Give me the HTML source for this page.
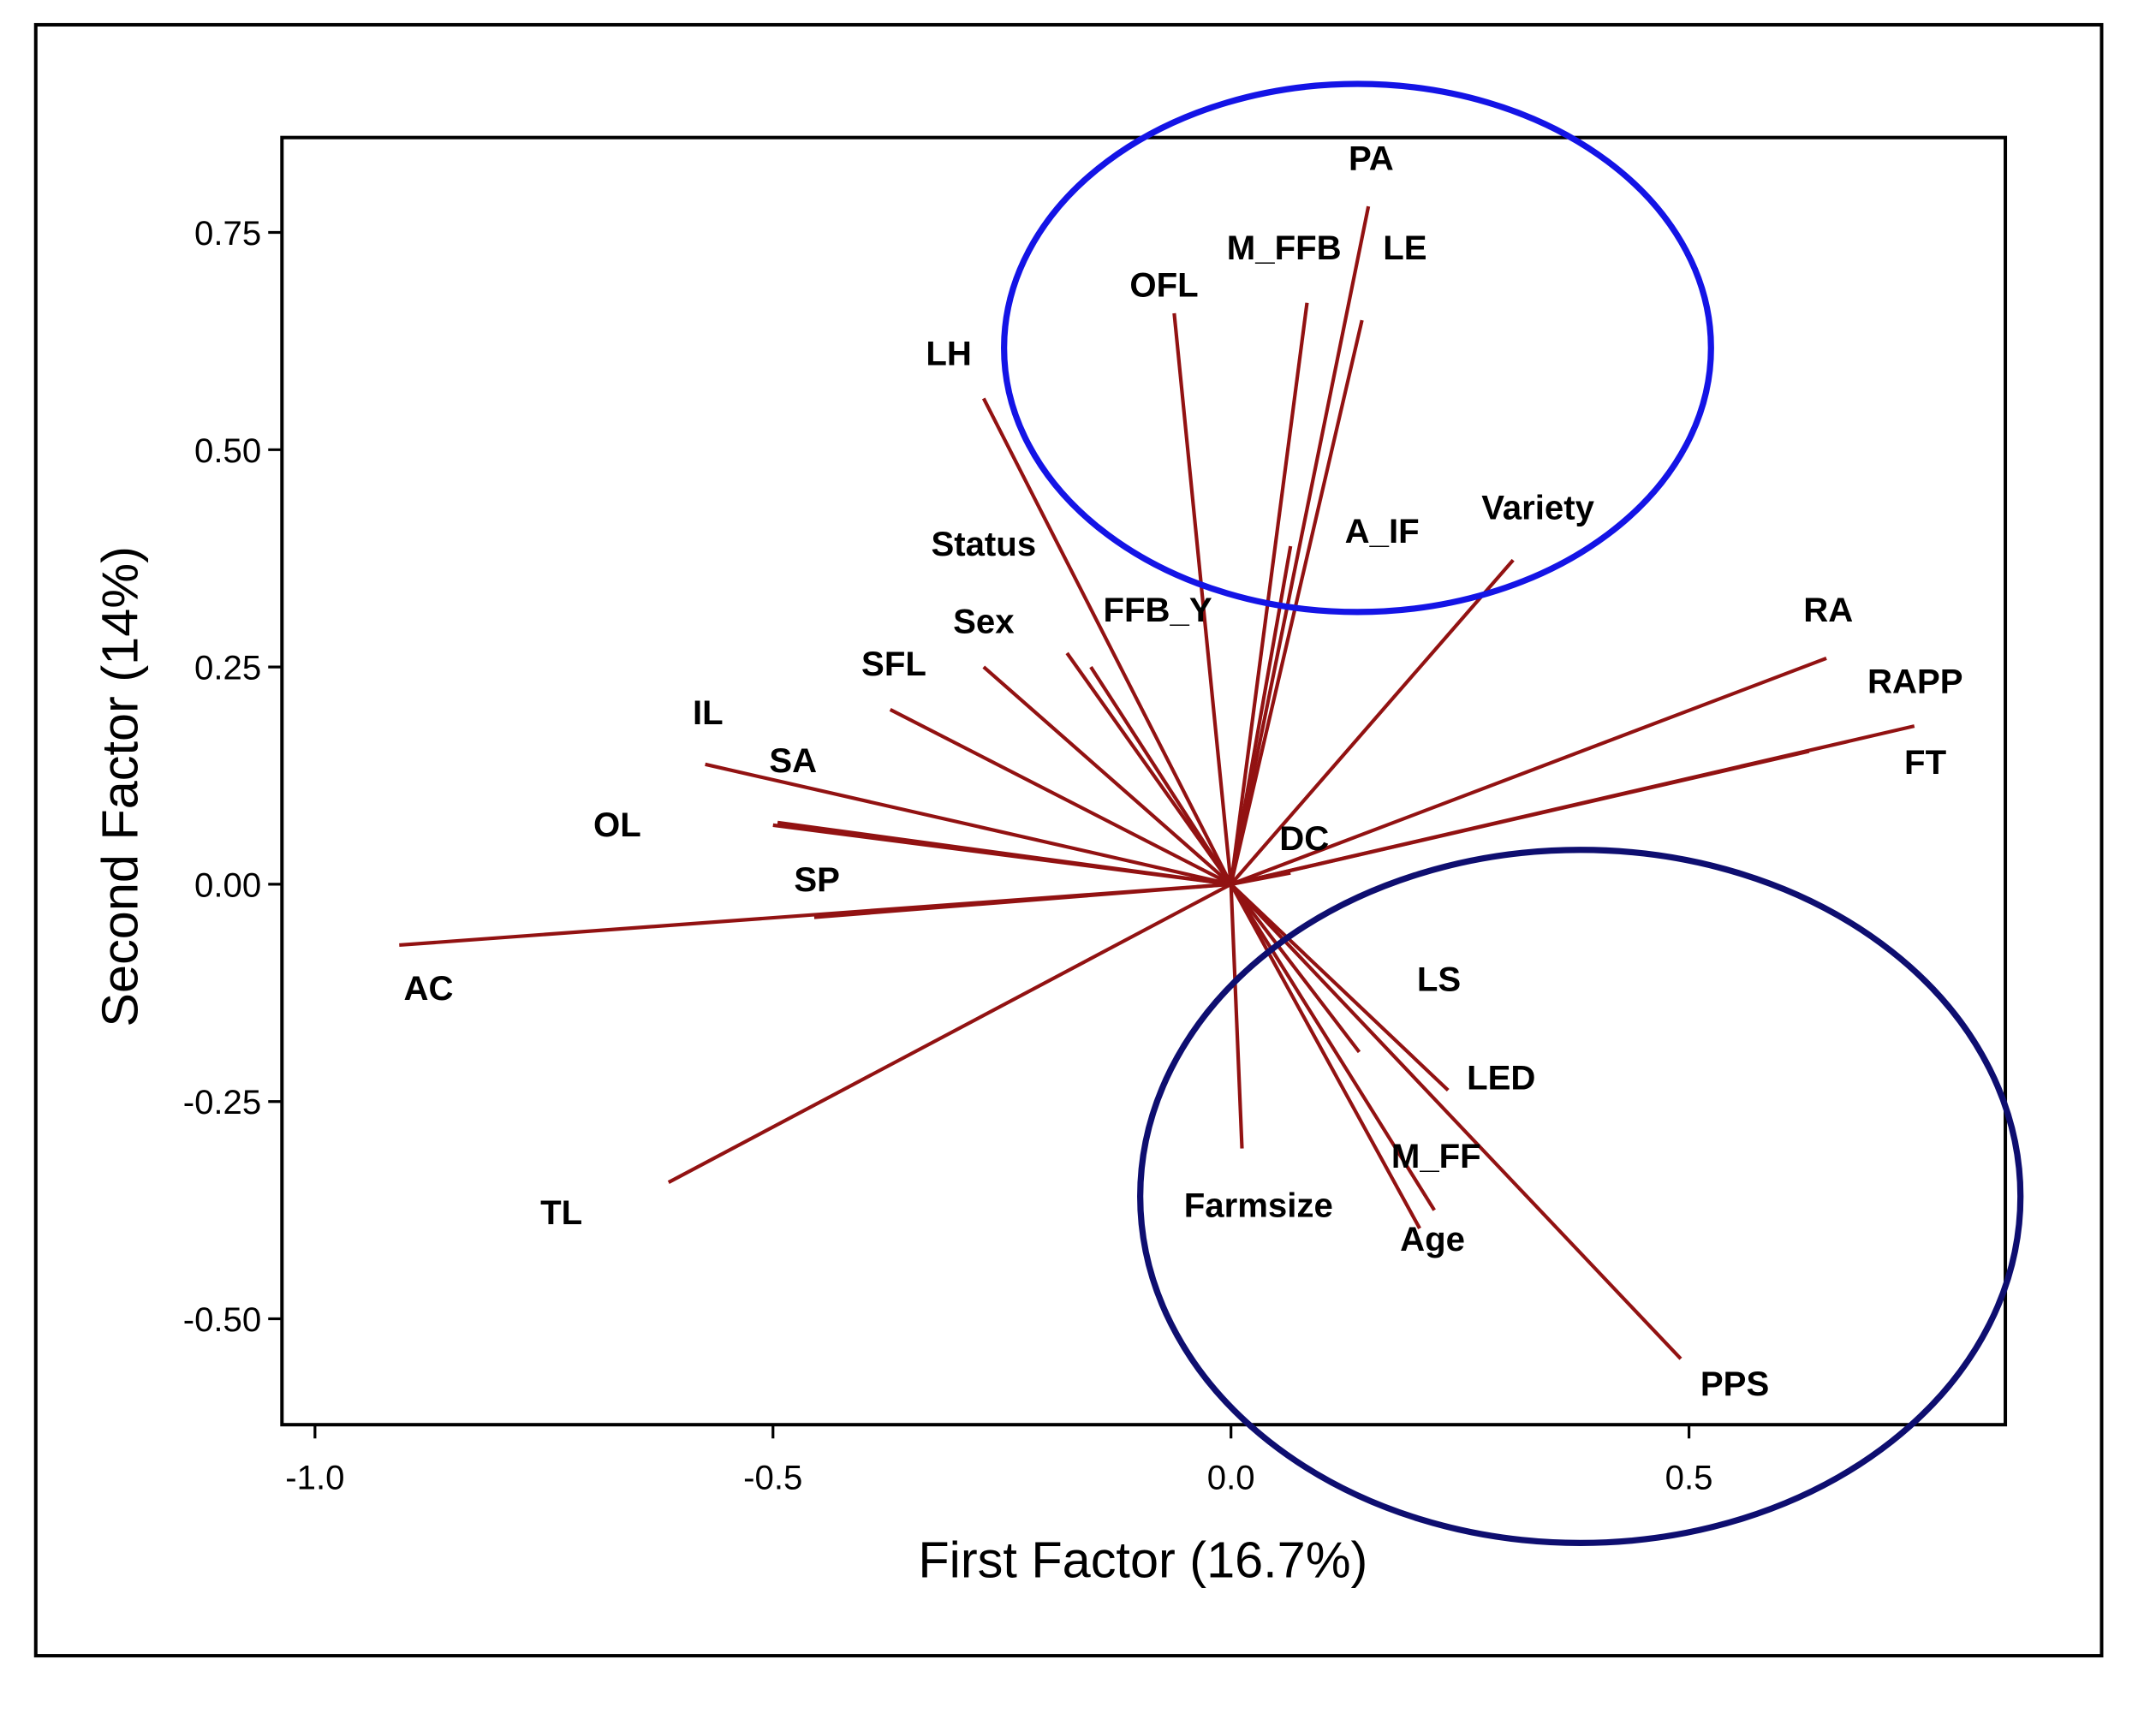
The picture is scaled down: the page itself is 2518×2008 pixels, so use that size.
<!DOCTYPE html>
<html><head><meta charset="utf-8"><style>
html,body{margin:0;padding:0;background:#fff}
svg{display:block}
text{font-family:"Liberation Sans",sans-serif}
.lbl{font-weight:bold;font-size:25px}
.tk{font-size:25px}
</style></head><body>
<svg id="chart" width="2518" height="2008" viewBox="0 0 1555 1240" xmlns="http://www.w3.org/2000/svg">
<g transform="scale(0.992)">
<rect x="26" y="18" width="1502" height="1186" fill="#fff" stroke="#000" stroke-width="2.5"/>
<rect x="205" y="100" width="1253" height="936" fill="none" stroke="#000" stroke-width="2.5"/>
<g id="axes"></g>
<g id="vecs"></g>
<g id="labels"></g>
<ellipse cx="987" cy="253" rx="257" ry="192" fill="none" stroke="#1414e6" stroke-width="4.5"/>
<ellipse cx="1149" cy="870" rx="320" ry="252" fill="none" stroke="#0e0e70" stroke-width="4.5"/>
<text x="831" y="1147" text-anchor="middle" font-size="37">First Factor (16.7%)</text>
<text transform="translate(100,572) rotate(-90)" text-anchor="middle" font-size="37">Second Factor (14%)</text>
</g>
</svg>
<script>
const variables=["PA","LE","M_FFB","OFL","LH","A_IF","Variety","Status","FFB_Y","Sex","SFL","IL","SA","OL","SP","AC","TL","RA","RAPP","FT","DC","Farmsize","LS","LED","M_FF","Age","PPS"];
const factor1=[0.150,0.143,0.083,-0.062,-0.270,0.065,0.308,-0.179,-0.153,-0.270,-0.372,-0.574,-0.495,-0.500,-0.455,-0.908,-0.614,0.650,0.746,0.631,0.065,0.012,0.140,0.237,0.222,0.206,0.491];
const factor2=[0.780,0.649,0.669,0.657,0.559,0.389,0.373,0.266,0.250,0.250,0.201,0.138,0.071,0.068,-0.038,-0.070,-0.343,0.260,0.182,0.153,0.013,-0.304,-0.193,-0.237,-0.375,-0.396,-0.546];
const labelF1=[0.153,0.190,0.058,-0.073,-0.308,0.165,0.335,-0.270,-0.080,-0.270,-0.368,-0.571,-0.478,-0.670,-0.452,-0.876,-0.731,0.652,0.747,0.758,0.080,0.030,0.227,0.295,0.224,0.220,0.550];
const labelF2=[0.830,0.727,0.727,0.684,0.605,0.401,0.428,0.386,0.310,0.297,0.248,0.192,0.137,0.063,0.000,-0.125,-0.383,0.310,0.228,0.135,0.047,-0.375,-0.115,-0.228,-0.318,-0.414,-0.580];
const xTicks=[-1.0,-0.5,0.0,0.5];
const xTickLabels=["-1.0","-0.5","0.0","0.5"];
const yTicks=[-0.5,-0.25,0,0.25,0.5,0.75];
const yTickLabels=["-0.50","-0.25","0.00","0.25","0.50","0.75"];
const NS="http://www.w3.org/2000/svg";
const sx=v=>895+v*666;
const sy=v=>643-v*632;
function mk(tag,attrs,parent){const e=document.createElementNS(NS,tag);for(const k in attrs)e.setAttribute(k,attrs[k]);parent.appendChild(e);return e;}
const axes=document.getElementById('axes');
xTicks.forEach((t,i)=>{
  const l=mk('line',{x1:sx(t),x2:sx(t),y1:1036,y2:1046,stroke:'#000','stroke-width':2},axes);
  
  
  const tx=mk('text',{x:sx(t),y:1083,'text-anchor':'middle','class':'tk'},axes);
  tx.textContent=xTickLabels[i];
  
  
});
yTicks.forEach((t,i)=>{
  const l=mk('line',{x1:195,x2:205,y1:sy(t),y2:sy(t),stroke:'#000','stroke-width':2},axes);
  
  
  const tx=mk('text',{x:190,y:sy(t)+9,'text-anchor':'end','class':'tk'},axes);
  tx.textContent=yTickLabels[i];
  
  
});
const vecs=document.getElementById('vecs'),labs=document.getElementById('labels');
variables.forEach((v,i)=>{
  const l=mk('line',{x1:sx(0),y1:sy(0),x2:sx(factor1[i]),y2:sy(factor2[i]),stroke:'#921212','stroke-width':2.6},vecs);
  
  
  const t=mk('text',{x:sx(labelF1[i]),y:sy(labelF2[i])+5,'text-anchor':'middle','class':'lbl'},labs);
  t.textContent=v;
  
  
});
</script>
</body></html>
